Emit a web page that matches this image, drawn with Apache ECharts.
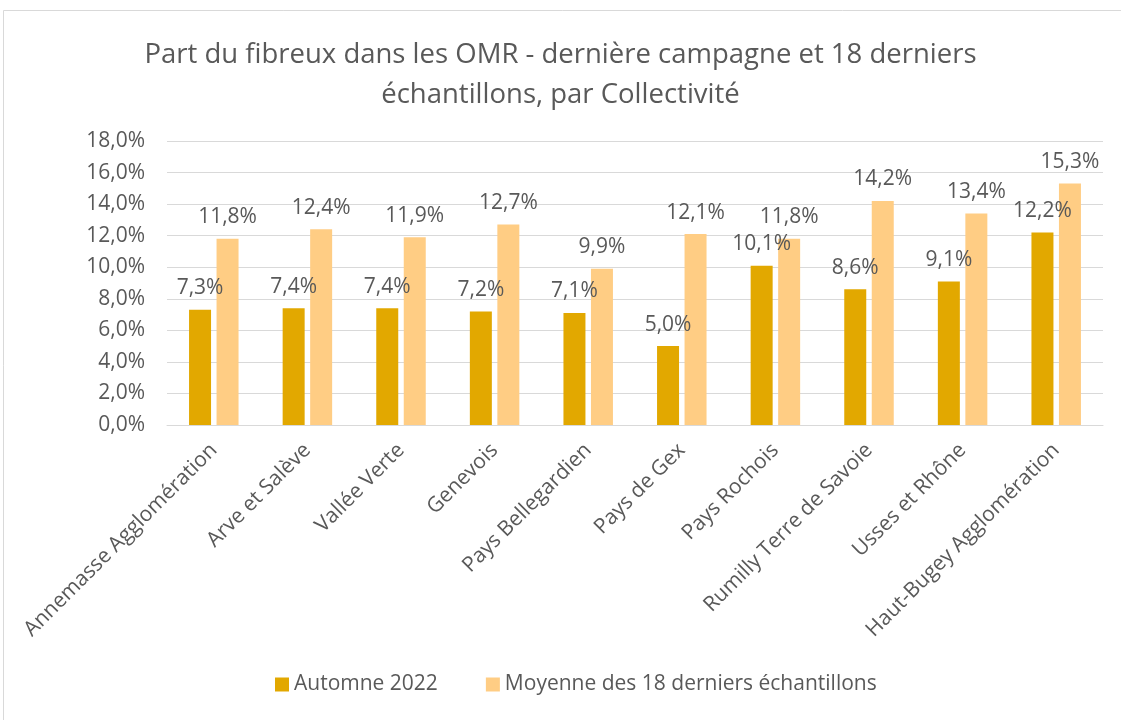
<!DOCTYPE html>
<html>
  <head>
    <meta charset="utf-8" />
    <title>Part du fibreux dans les OMR</title>
    <script src="https://cdn.jsdelivr.net/npm/echarts@6.0.0/dist/echarts.min.js"></script>
    <style>
      body {
        margin: 0;
        padding: 0;
        background: #ffffff;
      }
      #main {
        width: 1121px;
        height: 720px;
      }
    </style>
  </head>
  <body>
    <div id="main"></div>
    <script type="text/javascript">
      var collectivites = [
        "Annemasse Agglomération",
        "Arve et Salève",
        "Vallée Verte",
        "Genevois",
        "Pays Bellegardien",
        "Pays de Gex",
        "Pays Rochois",
        "Rumilly Terre de Savoie",
        "Usses et Rhône",
        "Haut-Bugey Agglomération",
      ];
      var automne2022 = [7.3, 7.4, 7.4, 7.2, 7.1, 5.0, 10.1, 8.6, 9.1, 12.2];
      var moyenne18 = [11.8, 12.4, 11.9, 12.7, 9.9, 12.1, 11.8, 14.2, 13.4, 15.3];
      var seriesNames = ["Automne 2022", "Moyenne des 18 derniers échantillons"];

      var textColor = "#595959";
      var fontName = "'Open Sans', 'Noto Sans', sans-serif";

      function pct(v) {
        return v.toFixed(1).replace(".", ",") + "%";
      }

      var myChart = echarts.init(document.getElementById("main"));

      var labelStyle = {
        show: true,
        position: "top",
        distance: 11,
        color: textColor,
        fontSize: 21,
        fontFamily: fontName,
        formatter: function (p) {
          return pct(p.value);
        },
      };

      var option = {
        backgroundColor: "#ffffff",
        animation: false,
        textStyle: { fontFamily: fontName },
        graphic: [
          {
            type: "rect",
            shape: { x: 3.5, y: 10.5, width: 1130, height: 720 },
            style: { fill: "none", stroke: "#d9d9d9", lineWidth: 1 },
            silent: true,
          },
        ],
        title: {
          text: "Part du fibreux dans les OMR - dernière campagne et 18 derniers\néchantillons, par Collectivité",
          left: "center",
          top: 30,
          textStyle: {
            color: textColor,
            fontSize: 27.5,
            fontWeight: "normal",
            fontFamily: fontName,
            lineHeight: 40,
          },
        },
        legend: {
          bottom: 20,
          left: 270,
          itemWidth: 14,
          itemHeight: 14,
          itemGap: 48,
          icon: "rect",
          textStyle: { color: textColor, fontSize: 21, fontFamily: fontName },
          data: seriesNames,
        },
        grid: {
          left: 167,
          right: 18,
          top: 141,
          bottom: 295,
          containLabel: false,
        },
        xAxis: {
          type: "category",
          data: collectivites,
          axisTick: { show: false },
          axisLine: { lineStyle: { color: "#d9d9d9", width: 1 } },
          axisLabel: {
            rotate: 45,
            interval: 0,
            margin: 22,
            color: textColor,
            fontSize: 21,
            fontFamily: fontName,
          },
        },
        yAxis: {
          type: "value",
          min: 0,
          max: 18,
          interval: 2,
          axisLine: { show: false },
          axisTick: { show: false },
          splitLine: { lineStyle: { color: "#d9d9d9", width: 1 } },
          axisLabel: {
            color: textColor,
            fontSize: 21,
            fontFamily: fontName,
            margin: 22,
            formatter: function (v) {
              return pct(v);
            },
          },
        },
        series: [
          {
            name: seriesNames[0],
            type: "bar",
            data: automne2022,
            barWidth: 22,
            barGap: "25%",
            itemStyle: { color: "#E2A800" },
            label: labelStyle,
          },
          {
            name: seriesNames[1],
            type: "bar",
            data: moyenne18,
            barWidth: 22,
            itemStyle: { color: "#FFCD84" },
            label: labelStyle,
          },
        ],
      };

      myChart.setOption(option);
    </script>
  </body>
</html>
